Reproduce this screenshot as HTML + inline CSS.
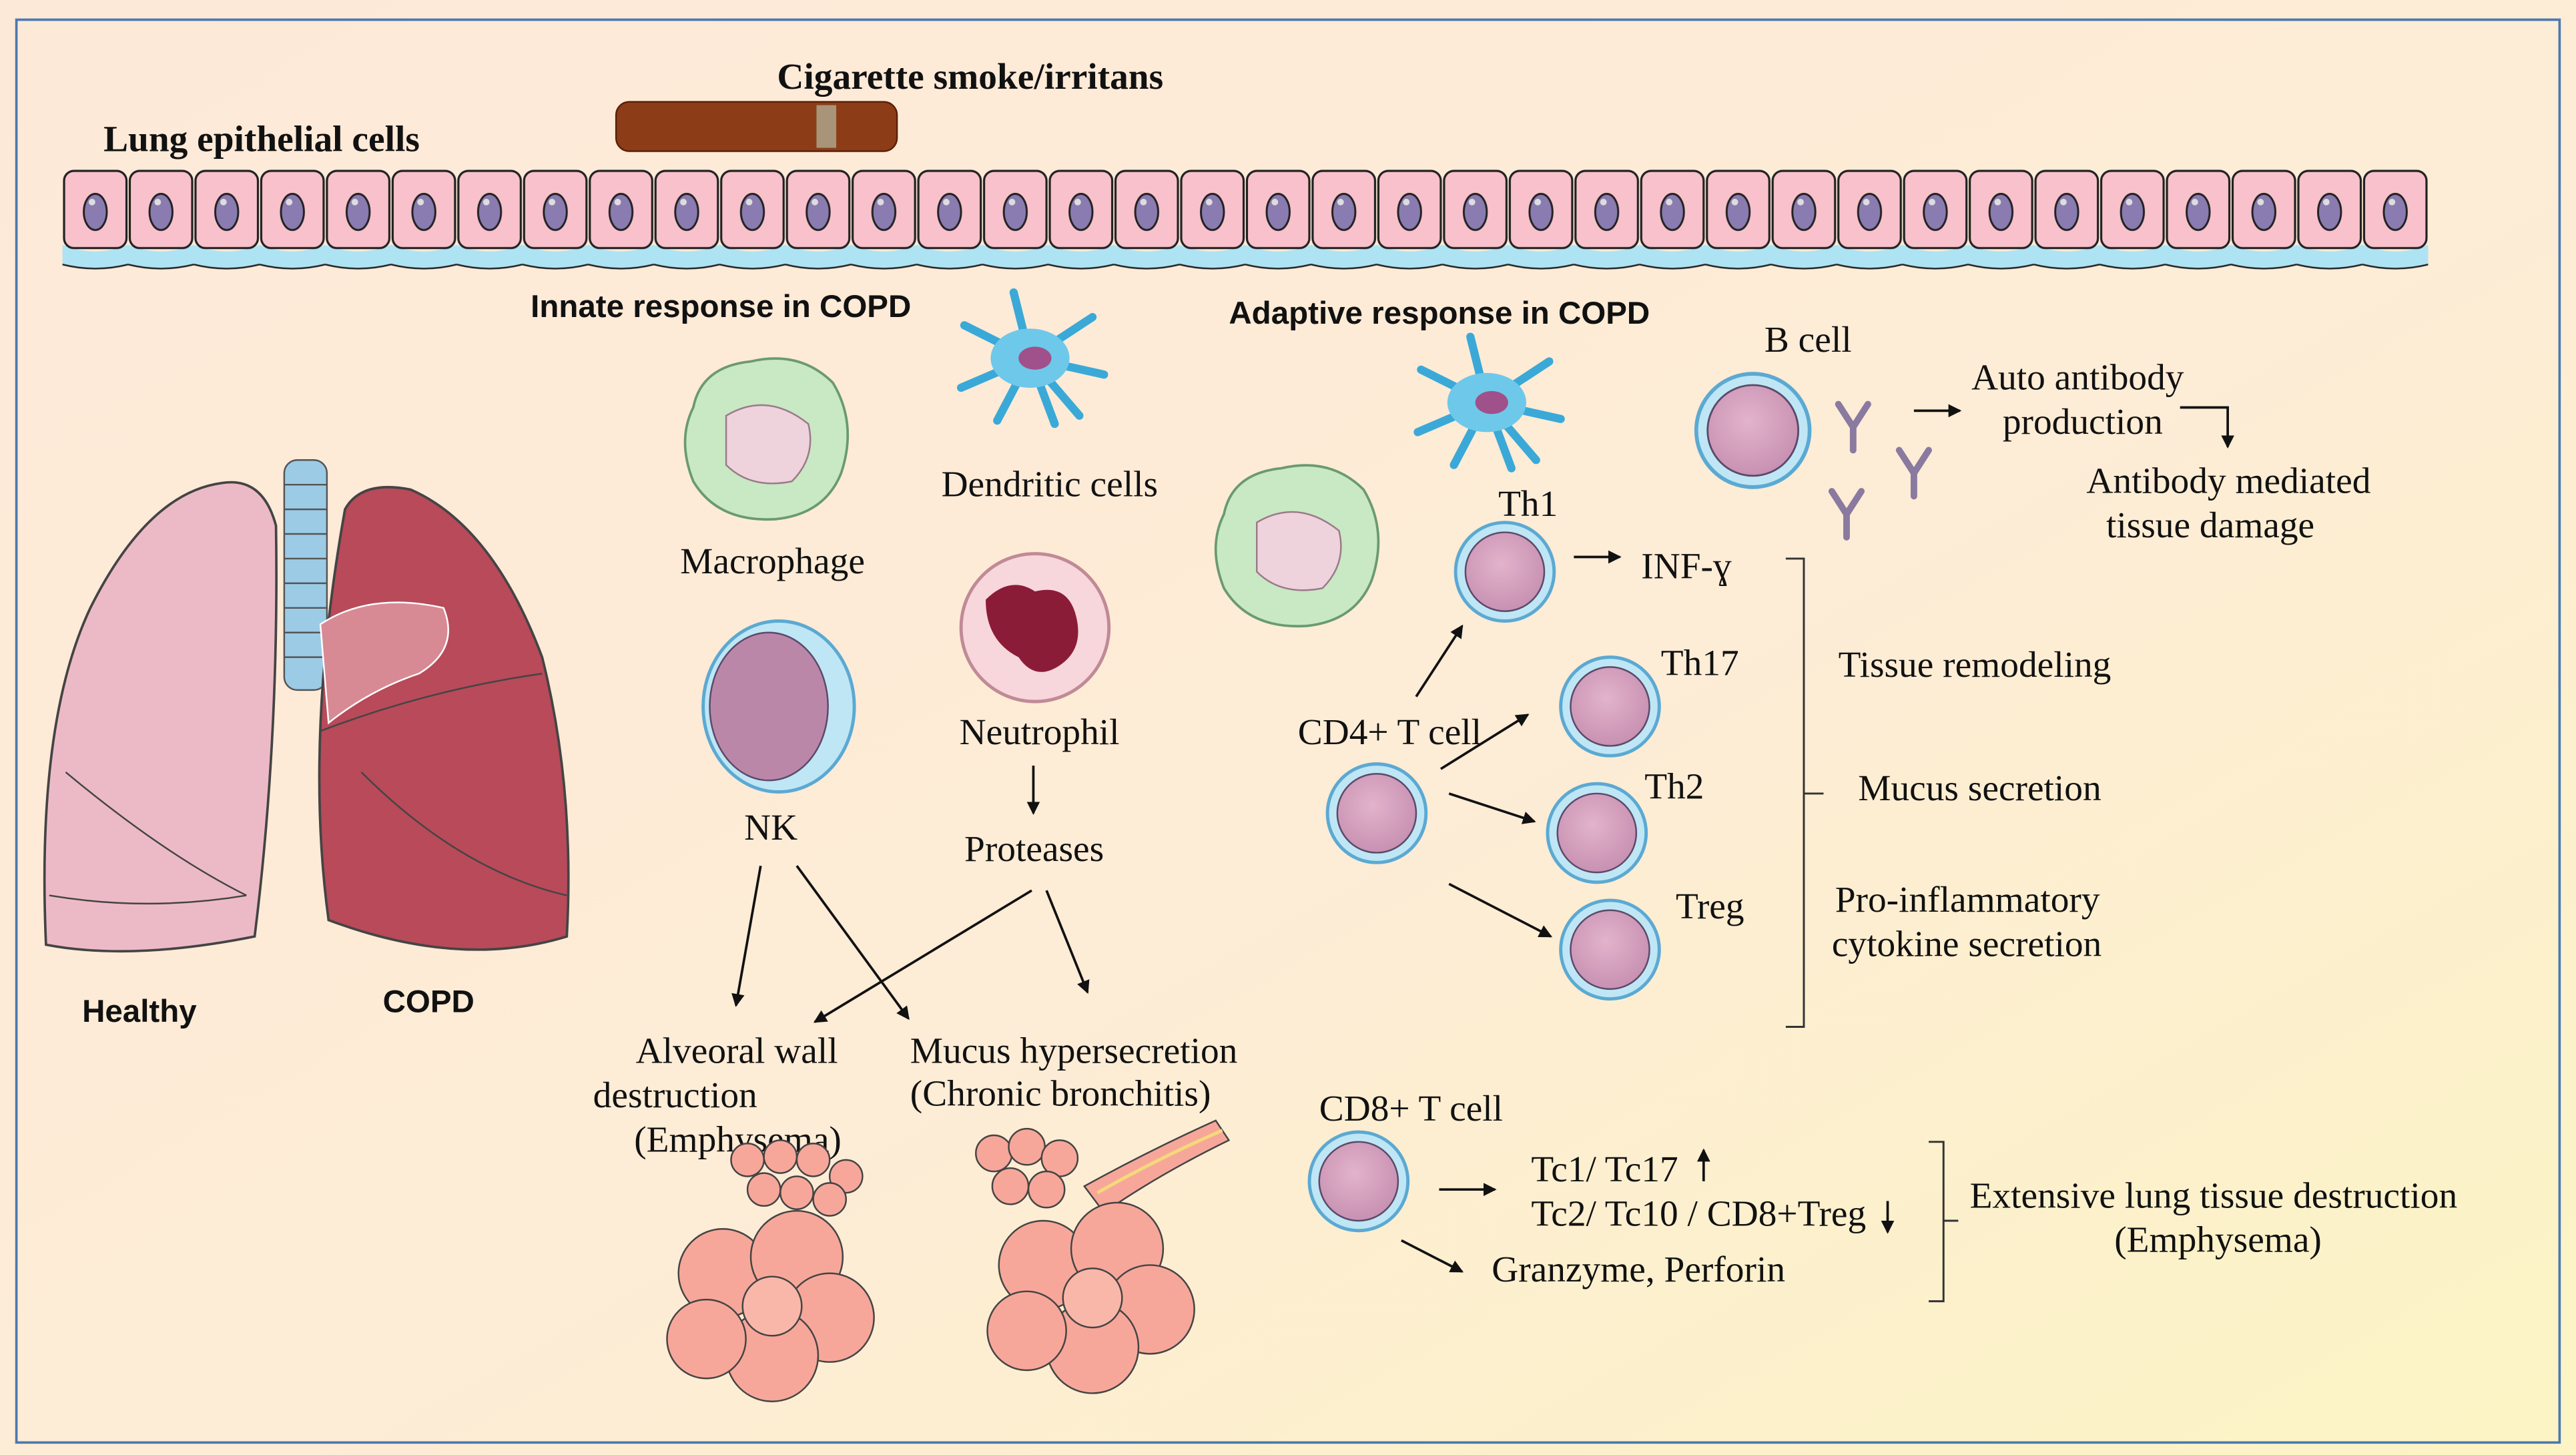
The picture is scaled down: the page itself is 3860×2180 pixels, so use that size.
<!DOCTYPE html>
<html><head><meta charset="utf-8"><style>
html,body{margin:0;padding:0;width:3860px;height:2180px;overflow:hidden;background:#fff}
svg{display:block}
.t{font-family:"Liberation Serif",serif;font-size:22.5px;fill:#111}
.b{font-family:"Liberation Sans",sans-serif;font-size:19.3px;font-weight:bold;fill:#111}
.bs{font-family:"Liberation Serif",serif;font-size:22.5px;font-weight:bold;fill:#111}
</style></head><body>
<svg width="3860" height="2180" viewBox="0 0 1568 885.6" preserveAspectRatio="none" xmlns="http://www.w3.org/2000/svg">
<defs>
<linearGradient id="bg" x1="0" y1="0" x2="1" y2="1"><stop offset="0" stop-color="#fde9d8"/><stop offset="0.55" stop-color="#fdecd6"/><stop offset="1" stop-color="#fcf4c4"/></linearGradient>
<pattern id="cell" x="38" y="103" width="40" height="62" patternUnits="userSpaceOnUse">
<path d="M0 46 Q20 54 40 46 L40 58 Q20 63 0 58Z" fill="#aee3f3"/>
<path d="M0 58 Q20 63 40 58" fill="none" stroke="#222" stroke-width="1"/>
<rect x="1" y="1" width="38" height="47" rx="6" fill="#f8c1cb" stroke="#222" stroke-width="1.3"/>
<ellipse cx="20" cy="26" rx="7" ry="11" fill="#8a7bb0" stroke="#222" stroke-width="1.2"/>
<circle cx="18" cy="20" r="2" fill="#ddd"/>
</pattern>
<marker id="ar" markerWidth="8" markerHeight="8" refX="7" refY="4" orient="auto" markerUnits="userSpaceOnUse"><path d="M0 0L8 4L0 8Z" fill="#111"/></marker>
<radialGradient id="tc" cx="0.45" cy="0.4" r="0.6"><stop offset="0" stop-color="#e2b3cb"/><stop offset="1" stop-color="#c891b2"/></radialGradient>
<g id="tcell"><circle r="30" fill="#bfe6f5" stroke="#5ba9d3" stroke-width="2"/><circle r="24" fill="url(#tc)" stroke="#5a4a6a" stroke-width="1"/></g>
<g id="mac"><path d="M-45 -20 Q-40 -45 -10 -48 Q20 -55 40 -35 Q55 -10 45 20 Q35 45 5 48 Q-30 50 -45 25 Q-55 0 -45 -20Z" fill="#c9e8c4" stroke="#6a9a70" stroke-width="1.5"/><path d="M-25 -15 Q0 -30 25 -10 Q30 10 15 25 Q-10 30 -25 15Z" fill="#eed3dc" stroke="#9b7a8a"/></g>
<g id="dc" stroke="#3aa9d8" stroke-width="5" stroke-linecap="round"><line x1="0" y1="0" x2="-40" y2="-20"/><line x1="0" y1="0" x2="38" y2="-25"/><line x1="0" y1="0" x2="45" y2="10"/><line x1="0" y1="0" x2="-42" y2="18"/><line x1="0" y1="0" x2="-10" y2="-40"/><line x1="0" y1="0" x2="15" y2="40"/><line x1="0" y1="0" x2="-20" y2="38"/><line x1="0" y1="0" x2="30" y2="35"/><ellipse rx="24" ry="18" fill="#6ec8ea" stroke="none"/><ellipse cx="3" rx="10" ry="7" fill="#a0508a" stroke="none"/></g>
<g id="ab" stroke="#8a7aa0" stroke-width="4" fill="none" stroke-linecap="round"><path d="M0 0V-14M0 -14L-9 -28M0 -14L9 -28"/></g>
<g id="alv"><circle cx="-30" cy="-15" r="27" fill="#f7a79a" stroke="#444"/><circle cx="15" cy="-25" r="28" fill="#f7a79a" stroke="#444"/><circle cx="35" cy="12" r="27" fill="#f7a79a" stroke="#444"/><circle cx="0" cy="35" r="28" fill="#f7a79a" stroke="#444"/><circle cx="-40" cy="25" r="24" fill="#f7a79a" stroke="#444"/><circle cx="0" cy="5" r="18" fill="#f9b7aa" stroke="#444"/></g>
</defs>
<rect width="1568" height="885.6" fill="url(#bg)"/>
<rect x="10" y="12" width="1548" height="866" fill="none" stroke="#4a7ab0" stroke-width="1.5"/>

<text class="bs" x="473" y="54">Cigarette smoke/irritans</text>
<text class="bs" x="63" y="92">Lung epithelial cells</text>
<rect x="375" y="62" width="171" height="30" rx="8" fill="#8c3d18" stroke="#5a2008"/>
<rect x="497" y="64" width="12" height="26" fill="#a89478"/>
<rect x="38" y="103" width="1440" height="62" fill="url(#cell)"/>

<!-- Lungs -->
<rect x="173" y="280" width="26" height="140" rx="8" fill="#9ccbe6" stroke="#555"/>
<g stroke="#555" stroke-width="1"><line x1="173" y1="295" x2="199" y2="295"/><line x1="173" y1="310" x2="199" y2="310"/><line x1="173" y1="325" x2="199" y2="325"/><line x1="173" y1="340" x2="199" y2="340"/><line x1="173" y1="355" x2="199" y2="355"/><line x1="173" y1="370" x2="199" y2="370"/><line x1="173" y1="385" x2="199" y2="385"/><line x1="173" y1="400" x2="199" y2="400"/></g>
<path d="M168 320 Q160 290 135 294 Q90 300 55 370 Q22 440 28 575 Q80 585 155 570 Q170 450 168 320Z" fill="#ecbac6" stroke="#444" stroke-width="1.5"/>
<path d="M40 470 Q100 520 150 545 M30 545 Q90 555 150 545" fill="none" stroke="#444"/>
<path d="M210 310 Q220 292 250 298 Q300 320 330 400 Q350 480 345 570 Q280 590 200 560 Q185 450 210 310Z" fill="#b84a5a" stroke="#444" stroke-width="1.5"/>
<path d="M195 445 Q260 420 330 410 M220 470 Q280 530 345 545" fill="none" stroke="#444"/>
<path d="M195 380 Q225 360 270 370 Q280 395 255 410 Q225 420 200 440Z" fill="#d88a94" stroke="#fff" stroke-width="1"/>
<text class="b" x="50" y="622">Healthy</text>
<text class="b" x="233" y="616">COPD</text>

<!-- innate -->
<text class="b" x="323" y="193">Innate response in COPD</text>
<use href="#mac" x="467" y="268"/>
<text class="t" x="414" y="349">Macrophage</text>
<use href="#dc" x="627" y="218"/>
<text class="t" x="573" y="302">Dendritic cells</text>
<circle cx="630" cy="382" r="45" fill="#f7d6dc" stroke="#c08a96" stroke-width="2"/>
<path d="M600 365 Q615 350 630 360 Q650 355 655 375 Q660 395 645 405 Q630 415 620 400 Q600 390 600 365Z" fill="#8a1c38"/>
<text class="t" x="584" y="453">Neutrophil</text>
<ellipse cx="474" cy="430" rx="46" ry="52" fill="#bfe6f5" stroke="#5ba9d3" stroke-width="2"/>
<ellipse cx="468" cy="430" rx="36" ry="45" fill="#bb87a8" stroke="#5a4a6a"/>
<text class="t" x="453" y="511">NK</text>
<line x1="629" y1="466" x2="629" y2="495" stroke="#111" stroke-width="1.5" marker-end="url(#ar)"/>
<text class="t" x="587" y="524">Proteases</text>
<g stroke="#111" stroke-width="1.5" fill="none" marker-end="url(#ar)">
<line x1="463" y1="527" x2="448" y2="612"/>
<line x1="485" y1="527" x2="553" y2="620"/>
<line x1="628" y1="542" x2="496" y2="622"/>
<line x1="637" y1="542" x2="662" y2="604"/>
</g>
<text class="t" x="387" y="647">Alveoral wall</text>
<text class="t" x="361" y="674">destruction</text>
<text class="t" x="386" y="701">(Emphysema)</text>
<text class="t" x="554" y="647">Mucus hypersecretion</text>
<text class="t" x="554" y="673">(Chronic bronchitis)</text>
<g fill="#f7a79a" stroke="#444"><circle cx="455" cy="706" r="10"/><circle cx="475" cy="704" r="10"/><circle cx="495" cy="706" r="10"/><circle cx="515" cy="716" r="10"/><circle cx="465" cy="724" r="10"/><circle cx="485" cy="726" r="10"/><circle cx="505" cy="730" r="10"/>
<circle cx="605" cy="702" r="11"/><circle cx="625" cy="698" r="11"/><circle cx="645" cy="705" r="11"/><circle cx="615" cy="722" r="11"/><circle cx="637" cy="724" r="11"/></g>
<path d="M660 722 Q700 700 740 682 L748 694 Q705 715 672 738Z" fill="#f7a79a" stroke="#444"/>
<path d="M668 726 Q705 705 744 688" fill="none" stroke="#f4d97a" stroke-width="2"/>
<use href="#alv" x="470" y="790"/>
<use href="#alv" x="665" y="785"/>

<!-- adaptive -->
<text class="b" x="748" y="197">Adaptive response in COPD</text>
<use href="#dc" x="905" y="245"/>
<use href="#mac" x="790" y="333"/>
<text class="t" x="1074" y="214">B cell</text>
<g transform="translate(1067 262) scale(1.15)"><use href="#tcell"/></g>
<use href="#ab" x="1128" y="274"/>
<use href="#ab" x="1165" y="302"/>
<use href="#ab" x="1124" y="327"/>
<line x1="1165" y1="250" x2="1193" y2="250" stroke="#111" stroke-width="1.5" marker-end="url(#ar)"/>
<text class="t" x="1200" y="237">Auto antibody</text>
<text class="t" x="1219" y="264">production</text>
<path d="M1327 248 H1356 V272" fill="none" stroke="#111" stroke-width="1.5" marker-end="url(#ar)"/>
<text class="t" x="1270" y="300">Antibody mediated</text>
<text class="t" x="1282" y="327">tissue damage</text>

<text class="t" x="912" y="314">Th1</text>
<use href="#tcell" x="916" y="348"/>
<line x1="958" y1="339" x2="986" y2="339" stroke="#111" stroke-width="1.5" marker-end="url(#ar)"/>
<text class="t" x="999" y="352">INF-ɣ</text>
<text class="t" x="1011" y="411">Th17</text>
<use href="#tcell" x="980" y="430"/>
<text class="t" x="1001" y="486">Th2</text>
<use href="#tcell" x="972" y="507"/>
<text class="t" x="1020" y="559">Treg</text>
<use href="#tcell" x="980" y="578"/>
<text class="t" x="790" y="453">CD4+ T cell</text>
<use href="#tcell" x="838" y="495"/>
<g stroke="#111" stroke-width="1.5" marker-end="url(#ar)">
<line x1="862" y1="424" x2="890" y2="381"/>
<line x1="877" y1="468" x2="930" y2="435"/>
<line x1="882" y1="483" x2="934" y2="500"/>
<line x1="882" y1="538" x2="944" y2="570"/>
</g>
<path d="M1087 340 H1098 V625 H1087 M1098 483 H1110" fill="none" stroke="#333" stroke-width="1.2"/>
<text class="t" x="1119" y="412">Tissue remodeling</text>
<text class="t" x="1131" y="487">Mucus secretion</text>
<text class="t" x="1117" y="555">Pro-inflammatory</text>
<text class="t" x="1115" y="582">cytokine secretion</text>

<text class="t" x="803" y="682">CD8+ T cell</text>
<use href="#tcell" x="827" y="719"/>
<line x1="876" y1="724" x2="910" y2="724" stroke="#111" stroke-width="1.5" marker-end="url(#ar)"/>
<line x1="853" y1="755" x2="890" y2="774" stroke="#111" stroke-width="1.5" marker-end="url(#ar)"/>
<text class="t" x="932" y="719">Tc1/ Tc17</text>
<line x1="1037" y1="719" x2="1037" y2="700" stroke="#111" stroke-width="1.5" marker-end="url(#ar)"/>
<text class="t" x="932" y="746">Tc2/ Tc10 / CD8+Treg</text>
<line x1="1149" y1="731" x2="1149" y2="750" stroke="#111" stroke-width="1.5" marker-end="url(#ar)"/>
<text class="t" x="908" y="780">Granzyme, Perforin</text>
<path d="M1174 695 H1183 V792 H1174 M1183 743 H1192" fill="none" stroke="#333" stroke-width="1.2"/>
<text class="t" x="1199" y="735">Extensive lung tissue destruction</text>
<text class="t" x="1287" y="762">(Emphysema)</text>
</svg>
</body></html>
